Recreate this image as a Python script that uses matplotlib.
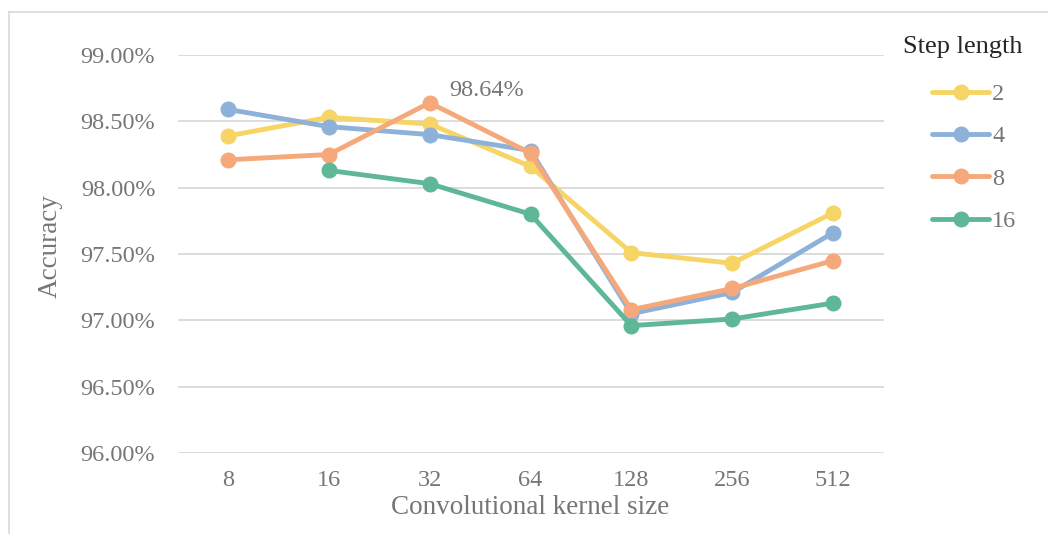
import numpy as np
import matplotlib
matplotlib.use("Agg")
import matplotlib.pyplot as plt
from matplotlib.lines import Line2D

# kernel sizes on the x axis (categorical)
kernel_sizes = ["8", "16", "32", "64", "128", "256", "512"]

# accuracy (%) for each step length
acc_step2 = [98.39, 98.53, 98.48, 98.16, 97.51, 97.43, 97.81]
acc_step4 = [98.59, 98.46, 98.40, 98.28, 97.05, 97.21, 97.66]
acc_step8 = [98.21, 98.25, 98.64, 98.26, 97.08, 97.24, 97.45]
acc_step16 = [np.nan, 98.13, 98.03, 97.80, 96.96, 97.01, 97.13]

step_labels = ["2", "4", "8", "16"]
y_ticks = [96.0, 96.5, 97.0, 97.5, 98.0, 98.5, 99.0]

colors = ["#F6D466", "#8EB1D9", "#F5A97B", "#5EB796"]
text_gray = "#767676"

plt.rcParams["font.family"] = ["Liberation Serif", "DejaVu Serif"]

fig = plt.figure(figsize=(10.48, 5.34), dpi=100)
ax = fig.add_axes([177.5 / 1048, 81 / 534, 706 / 1048, 398 / 534])

x = np.arange(len(kernel_sizes))
series = [acc_step2, acc_step4, acc_step8, acc_step16]
for i, (vals, lab) in enumerate(zip(series, step_labels)):
    ax.plot(x, vals, color=colors[i], lw=3.5, marker="o", markersize=10.5,
            label=lab, zorder=3 + i, solid_capstyle="round")

ax.set_xlim(-0.5, len(kernel_sizes) - 0.5)
ax.set_ylim(96, 99)
ax.set_xticks(x)
ax.set_xticklabels(kernel_sizes)
ax.set_yticks(y_ticks)
ax.set_yticklabels([f"{v:.2f}%" for v in y_ticks])
ax.tick_params(length=0, labelsize=17.5, labelcolor=text_gray)
ax.tick_params(axis="y", pad=16)
ax.tick_params(axis="x", pad=12)
ax.grid(axis="y", color="#D9D9D9", lw=1.3)
ax.set_axisbelow(True)
for s in ax.spines.values():
    s.set_visible(False)

ax.set_ylabel("Accuracy", fontsize=19.5, color=text_gray, va="center")
ax.yaxis.set_label_coords(-0.18, 0.52)
ax.set_xlabel("Convolutional kernel size", fontsize=19.5, color=text_gray, va="center")
ax.xaxis.set_label_coords(0.5, -0.138)

# label for the best result
ax.annotate("98.64%", xy=(2, 98.64), xytext=(41, 9), textcoords="offset points",
            ha="center", va="center", fontsize=17.5, color=text_gray)

leg = ax.legend(loc="upper left", bbox_to_anchor=(932 / 1048, 1 - 83 / 534),
                bbox_transform=fig.transFigure, frameon=False, fontsize=17.5,
                handlelength=2.35, handletextpad=0.12, labelspacing=0.84,
                borderpad=0, borderaxespad=0)
for t in leg.get_texts():
    t.set_color(text_gray)
fig.text(903 / 1048, 1 - 47 / 534, "Step length", fontsize=19, color="#262626",
         ha="left", va="center")

# light border on top and left of the chart area
fig.add_artist(Line2D([9 / 1048, 1.0], [1 - 12 / 534, 1 - 12 / 534],
                      transform=fig.transFigure, color="#D9D9D9", lw=1.2))
fig.add_artist(Line2D([9 / 1048, 9 / 1048], [0, 1 - 12 / 534],
                      transform=fig.transFigure, color="#D9D9D9", lw=1.2))

fig.savefig("out.png", dpi=100)
